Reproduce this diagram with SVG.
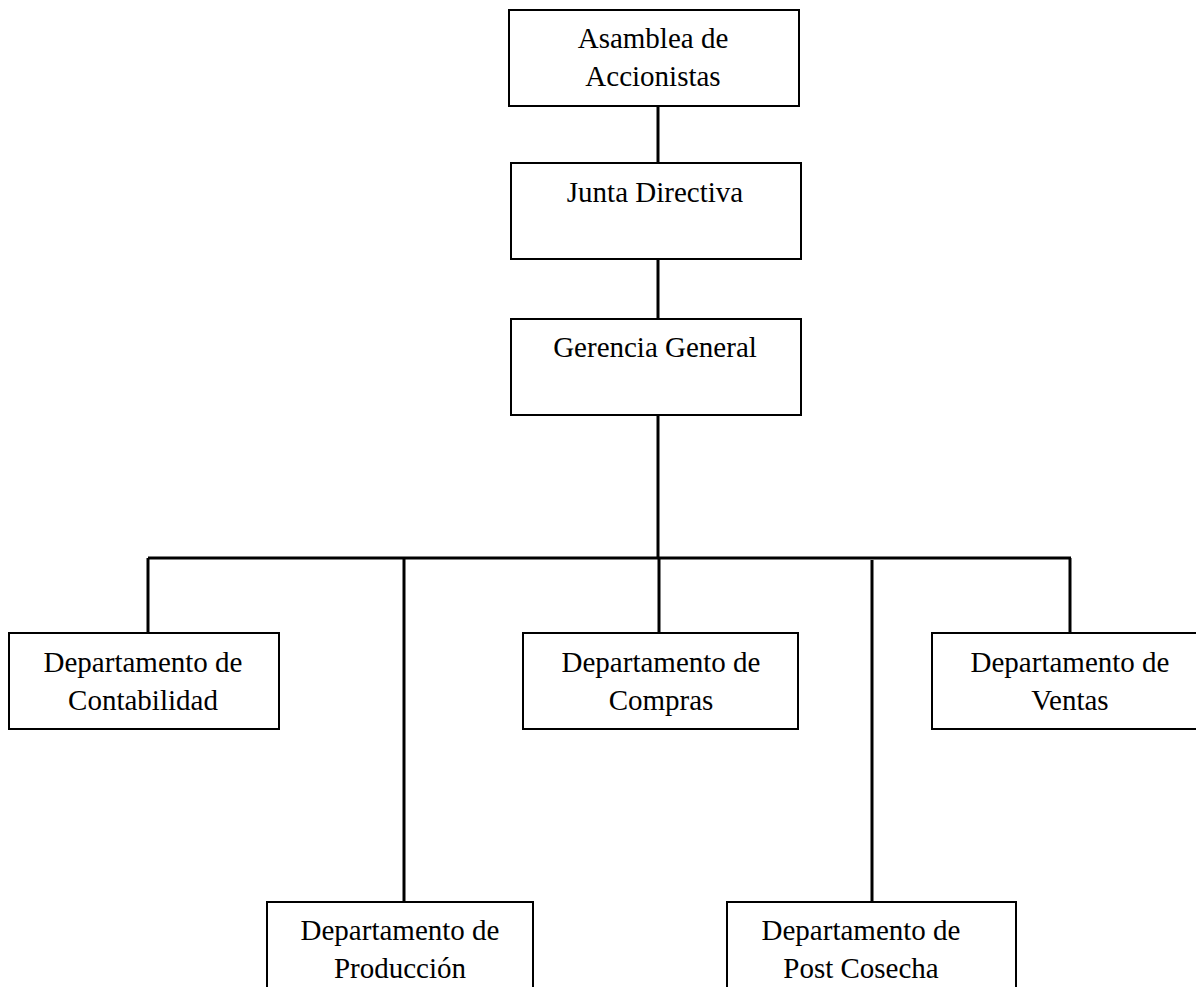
<svg xmlns="http://www.w3.org/2000/svg" width="1196" height="987" viewBox="0 0 1196 987">
<style>
.box{fill:#fff;stroke:#000;stroke-width:2}
.ln{stroke:#000;stroke-width:3;fill:none}
text{font-family:"Liberation Serif","Times New Roman",serif;font-size:29px;fill:#000;text-anchor:middle}
</style>
<rect width="1196" height="987" fill="#fff"/>
<g id="connectors">
<line class="ln" x1="658" y1="106" x2="658" y2="163"/>
<line class="ln" x1="658" y1="259" x2="658" y2="319"/>
<line class="ln" x1="658" y1="415" x2="658" y2="558"/>
<line class="ln" x1="148" y1="558" x2="1071" y2="558"/>
<line class="ln" x1="148" y1="558" x2="148" y2="633"/>
<line class="ln" x1="404" y1="558" x2="404" y2="902"/>
<line class="ln" x1="659" y1="558" x2="659" y2="633"/>
<line class="ln" x1="872" y1="560" x2="872" y2="902"/>
<line class="ln" x1="1070" y1="558" x2="1070" y2="633"/>
</g>
<g id="asamblea">
<rect class="box" x="509" y="10" width="290" height="96"/>
<text x="653" y="48">Asamblea de</text>
<text x="653" y="86">Accionistas</text>
</g>
<g id="junta">
<rect class="box" x="511" y="163" width="290" height="96"/>
<text x="655" y="202">Junta Directiva</text>
</g>
<g id="gerencia">
<rect class="box" x="511" y="319" width="290" height="96"/>
<text x="655" y="357">Gerencia General</text>
</g>
<g id="contabilidad">
<rect class="box" x="9" y="633" width="270" height="96"/>
<text x="143" y="672">Departamento de</text>
<text x="143" y="710">Contabilidad</text>
</g>
<g id="compras">
<rect class="box" x="523" y="633" width="275" height="96"/>
<text x="661" y="672">Departamento de</text>
<text x="661" y="710">Compras</text>
</g>
<g id="ventas">
<rect class="box" x="932" y="633" width="275" height="96"/>
<text x="1070" y="672">Departamento de</text>
<text x="1070" y="710">Ventas</text>
</g>
<g id="produccion">
<rect class="box" x="267" y="902" width="266" height="96"/>
<text x="400" y="940">Departamento de</text>
<text x="400" y="978">Producción</text>
</g>
<g id="postcosecha">
<rect class="box" x="727" y="902" width="289" height="96"/>
<text x="861" y="940">Departamento de</text>
<text x="861" y="978">Post Cosecha</text>
</g>
</svg>
